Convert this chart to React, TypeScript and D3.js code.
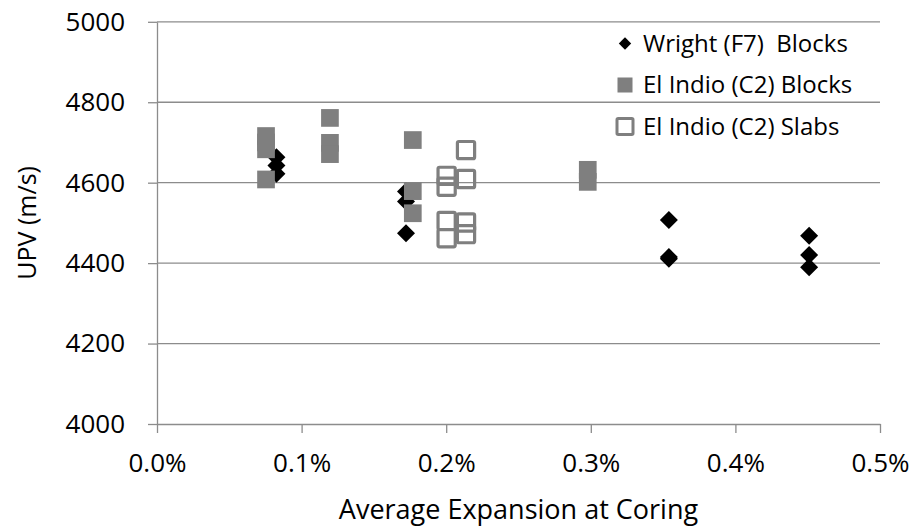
import { useEffect, useRef } from "react";
import * as d3 from "d3";

// x in % expansion, y in m/s
const wrightBlocks: [number, number][] = [
  [0.0826, 4663], [0.0826, 4643], [0.0826, 4622],
  [0.1722, 4578], [0.1722, 4553], [0.1722, 4474],
  [0.354, 4507], [0.354, 4415], [0.354, 4411],
  [0.451, 4468], [0.451, 4420], [0.451, 4390],
];

const elIndioBlocks: [number, number][] = [
  [0.0754, 4716], [0.0754, 4700], [0.0754, 4683], [0.0754, 4608],
  [0.1196, 4761], [0.1196, 4699], [0.1196, 4671],
  [0.1769, 4706], [0.1769, 4579], [0.1769, 4524],
  [0.2979, 4632], [0.2979, 4602],
];

const elIndioSlabs: [number, number][] = [
  [0.2003, 4617], [0.2003, 4590], [0.2003, 4505], [0.2003, 4462],
  [0.2137, 4681], [0.2137, 4609], [0.2137, 4501], [0.2137, 4472],
];

const legendLabels = ["Wright (F7)  Blocks", "El Indio (C2) Blocks", "El Indio (C2) Slabs"];
const xTicks = [0, 0.1, 0.2, 0.3, 0.4, 0.5];
const yTicks = [4000, 4200, 4400, 4600, 4800, 5000];

const FONT = "'Open Sans', sans-serif";
const GRID = "#8c8c8c";
const GRAY = "#7f7f7f";

export default function App() {
  const svgRef = useRef<SVGSVGElement>(null);

  useEffect(() => {
    const width = 917;
    const height = 529;
    const margin = { top: 21.8, right: 37, bottom: 105, left: 157 };

    const svg = d3.select(svgRef.current).attr("width", width).attr("height", height);
    svg.selectAll("*").remove();

    const x = d3.scaleLinear().domain([0, 0.5]).range([margin.left, width - margin.right]);
    const y = d3.scaleLinear().domain([4000, 5000]).range([height - margin.bottom, margin.top]);

    // gridlines
    svg
      .append("g")
      .selectAll("line")
      .data(yTicks.slice(1))
      .join("line")
      .attr("x1", x(0))
      .attr("x2", x(0.5))
      .attr("y1", (d) => y(d))
      .attr("y2", (d) => y(d))
      .attr("stroke", GRID)
      .attr("stroke-width", 1.3);

    const xAxis = d3
      .axisBottom(x)
      .tickValues(xTicks)
      .tickSize(9)
      .tickSizeOuter(0)
      .tickPadding(21)
      .tickFormat((d) => (d as number).toFixed(1) + "%");

    const gx = svg.append("g").attr("transform", `translate(0, ${y(4000)})`).call(xAxis);

    const yAxis = d3
      .axisLeft(y)
      .tickValues(yTicks)
      .tickSize(9)
      .tickSizeOuter(0)
      .tickPadding(23)
      .tickFormat((d) => String(d));

    const gy = svg.append("g").attr("transform", `translate(${x(0)}, 0)`).call(yAxis);

    [gx, gy].forEach((g) => {
      g.select(".domain").attr("stroke", GRID).attr("stroke-width", 1.3);
      g.selectAll(".tick line").attr("stroke", GRID).attr("stroke-width", 1.3);
      g.selectAll(".tick text")
        .attr("fill", "#000")
        .style("font-family", FONT)
        .style("font-size", "26px");
    });

    // axis titles
    svg
      .append("text")
      .attr("x", (x(0) + x(0.5)) / 2)
      .attr("y", 519)
      .attr("text-anchor", "middle")
      .style("font-family", FONT)
      .style("font-size", "27px")
      .text("Average Expansion at Coring");

    svg
      .append("text")
      .attr("transform", `translate(36, ${(y(4000) + y(5000)) / 2}) rotate(-90)`)
      .attr("text-anchor", "middle")
      .style("font-family", FONT)
      .style("font-size", "25px")
      .text("UPV (m/s)");

    const diamond = (cx: number, cy: number, r: number) =>
      `M${cx},${cy - r}L${cx + r},${cy}L${cx},${cy + r}L${cx - r},${cy}Z`;

    // Wright diamonds
    svg
      .append("g")
      .selectAll("path")
      .data(wrightBlocks)
      .join("path")
      .attr("d", (d) => diamond(x(d[0]), y(d[1]), 9))
      .attr("fill", "#000");

    // El Indio blocks
    const sq = 17.7;
    svg
      .append("g")
      .selectAll("rect")
      .data(elIndioBlocks)
      .join("rect")
      .attr("x", (d) => x(d[0]) - sq / 2)
      .attr("y", (d) => y(d[1]) - sq / 2)
      .attr("width", sq)
      .attr("height", sq)
      .attr("fill", GRAY);

    // El Indio slabs
    const hs = 17.2;
    svg
      .append("g")
      .selectAll("rect")
      .data(elIndioSlabs)
      .join("rect")
      .attr("x", (d) => x(d[0]) - hs / 2)
      .attr("y", (d) => y(d[1]) - hs / 2)
      .attr("width", hs)
      .attr("height", hs)
      .attr("rx", 1.5)
      .attr("fill", "none")
      .attr("stroke", GRAY)
      .attr("stroke-width", 3.2);

    // legend
    const lg = svg.append("g").attr("transform", "translate(625, 43.5)");
    const rows = lg
      .selectAll("g")
      .data(legendLabels)
      .join("g")
      .attr("transform", (_, i) => `translate(0, ${i * 41.5})`);

    rows
      .filter((_, i) => i === 0)
      .append("path")
      .attr("d", diamond(0, 0, 6.2))
      .attr("fill", "#000");
    rows
      .filter((_, i) => i === 1)
      .append("rect")
      .attr("x", -7.5)
      .attr("y", -7.5)
      .attr("width", 15)
      .attr("height", 15)
      .attr("fill", GRAY);
    rows
      .filter((_, i) => i === 2)
      .append("rect")
      .attr("x", -8)
      .attr("y", -8)
      .attr("width", 16)
      .attr("height", 16)
      .attr("rx", 1.2)
      .attr("fill", "none")
      .attr("stroke", GRAY)
      .attr("stroke-width", 3);

    rows
      .append("text")
      .attr("x", 18)
      .attr("y", 0)
      .attr("dy", "0.35em")
      .style("font-family", FONT)
      .style("font-size", "24px")
      .style("white-space", "pre")
      .text((d) => d);
  }, []);

  return <svg ref={svgRef} style={{ position: "absolute", left: 0, top: 0 }} />;
}
